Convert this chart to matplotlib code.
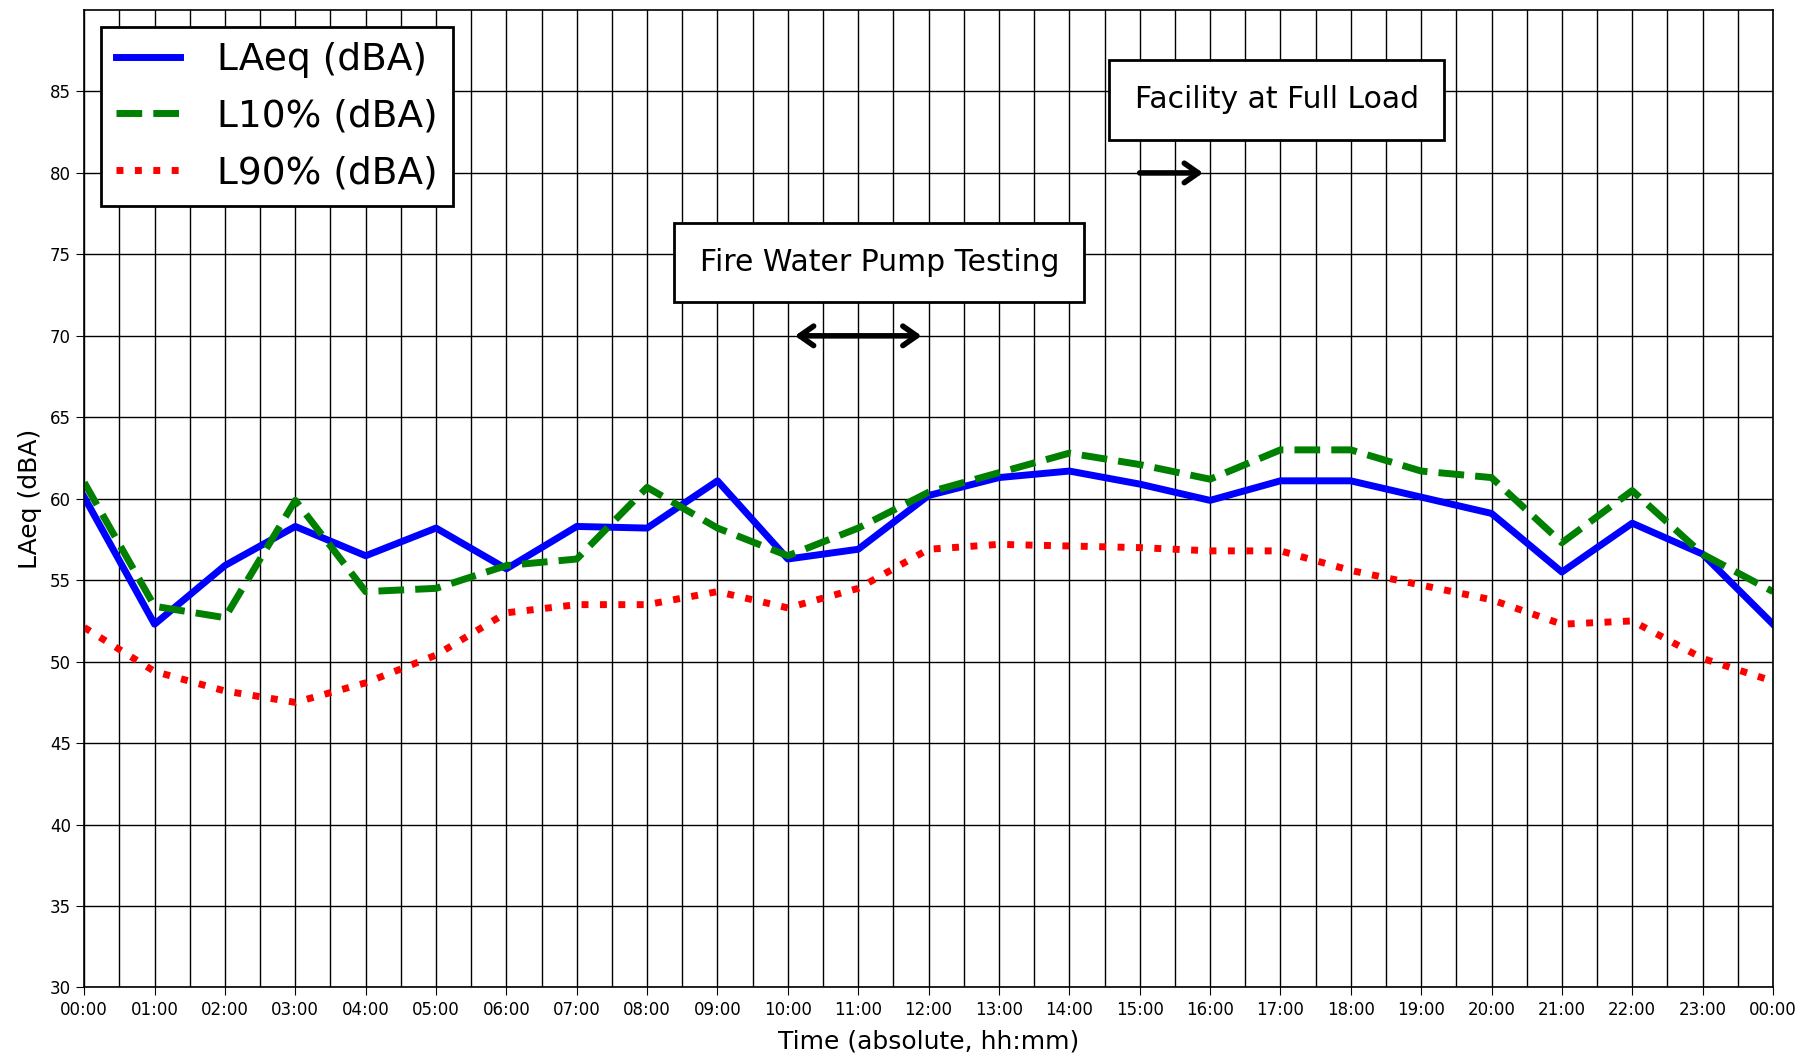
import matplotlib.pyplot as plt
import numpy as np

# hourly sound levels over one day
hours = list(range(25))
laeq = [60.1, 52.3, 55.9, 58.3, 56.5, 58.2, 55.7, 58.3, 58.2, 61.1, 56.3, 56.9, 60.2,
        61.3, 61.7, 60.9, 59.9, 61.1, 61.1, 60.1, 59.1, 55.5, 58.5, 56.6, 52.3]
l10 = [61.0, 53.4, 52.7, 59.9, 54.3, 54.5, 55.9, 56.3, 60.7, 58.2, 56.5, 58.2, 60.4,
       61.6, 62.8, 62.1, 61.2, 63.0, 63.0, 61.7, 61.3, 57.3, 60.5, 56.6, 54.3]
l90 = [52.1, 49.4, 48.2, 47.5, 48.7, 50.4, 53.0, 53.5, 53.5, 54.3, 53.3, 54.5, 56.9,
       57.2, 57.1, 57.0, 56.8, 56.8, 55.6, 54.7, 53.8, 52.3, 52.5, 50.2, 48.8]
tick_labels = ['%02d:00' % (h % 24) for h in hours]

plt.close("all")
fig = plt.figure(figsize=(18.11, 10.55), dpi=100)
ax = fig.add_axes([0.0465, 0.064, 0.9325, 0.9265])

ax.plot(hours, laeq, color='#0000ff', lw=5, label='LAeq (dBA)')
ax.plot(hours, l10, color='#008000', lw=5, ls='--', label='L10% (dBA)')
ax.plot(hours, l90, color='#ff0000', lw=5, ls=':', label='L90% (dBA)')

ax.set_xlim(0, 24)
ax.set_ylim(30, 90)
ax.set_xticks(hours)
ax.set_xticklabels(tick_labels)
ax.set_xticks(np.arange(0.5, 24, 1), minor=True)
ax.set_yticks(range(30, 90, 5))
ax.grid(True, which='both', axis='x', color='k', lw=1)
ax.grid(True, which='major', axis='y', color='k', lw=1)
ax.set_axisbelow(True)
ax.tick_params(axis='both', which='major', labelsize=12, direction='out', length=6)
ax.tick_params(axis='x', which='minor', length=0)
for s in ax.spines.values():
    s.set_linewidth(1.2)

ax.set_xlabel('Time (absolute, hh:mm)', fontsize=18, labelpad=8)
ax.set_ylabel('LAeq (dBA)', fontsize=18, labelpad=6)

leg = ax.legend(loc='upper left', fontsize=27, handlelength=1.7, handletextpad=1.0,
                labelspacing=0.55, fancybox=False, framealpha=1, borderaxespad=0.45)
leg.get_frame().set_edgecolor('k')
leg.get_frame().set_linewidth(2)

box = dict(boxstyle='square,pad=0.85', fc='white', ec='k', lw=2)
ax.text(11.3, 74.5, 'Fire Water Pump Testing', fontsize=21.5, ha='center', va='center', bbox=box)
ax.text(16.95, 84.5, 'Facility at Full Load', fontsize=21.5, ha='center', va='center', bbox=box)

ax.annotate('', xy=(11.9, 70), xytext=(10.1, 70),
            arrowprops=dict(arrowstyle='<->,head_length=1.0,head_width=0.7', lw=4, color='k',
                            shrinkA=0, shrinkB=0))
ax.annotate('', xy=(15.9, 80), xytext=(15.0, 80),
            arrowprops=dict(arrowstyle='->,head_length=1.0,head_width=0.7', lw=4, color='k',
                            shrinkA=0, shrinkB=0))

fig.savefig('out.png', dpi=100)
